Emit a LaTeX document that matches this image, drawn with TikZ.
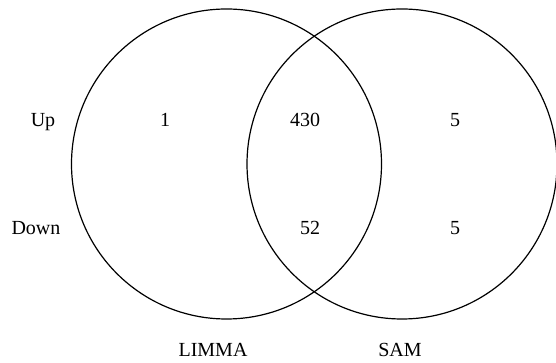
\documentclass[tikz,border=0pt]{standalone}
\usepackage{fontspec}
\setmainfont{Liberation Serif}

\begin{document}
\begin{tikzpicture}[
    x=0.5pt, y=0.5pt,
    every node/.style={inner sep=0pt, font=\fontsize{10}{12}\selectfont},
    venn/.style={draw, circle, line width=0.6pt, minimum size=155pt},
    cnt/.style={anchor=base}
  ]
  \useasboundingbox (0,0) rectangle (556,363);
  \node[venn] (limma) at (226.5,199) {};
  \node[venn] (sam) at (402,199) {};
  % Row labels
  \node[cnt] (up) at (43,236) {Up};
  \node[cnt] (down) at (36,128) {Down};
  % Counts
  \node[cnt] (upL) at (165,236) {1};
  \node[cnt] (upLS) at (305,236) {430};
  \node[cnt] (upS) at (455,236) {5};
  \node[cnt] (downLS) at (310,128) {52};
  \node[cnt] (downS) at (455,128) {5};
  % Set names
  \node[cnt] (limmaName) at (213,6) {LIMMA};
  \node[cnt] (samName) at (400,6) {SAM};
\end{tikzpicture}
\end{document}
